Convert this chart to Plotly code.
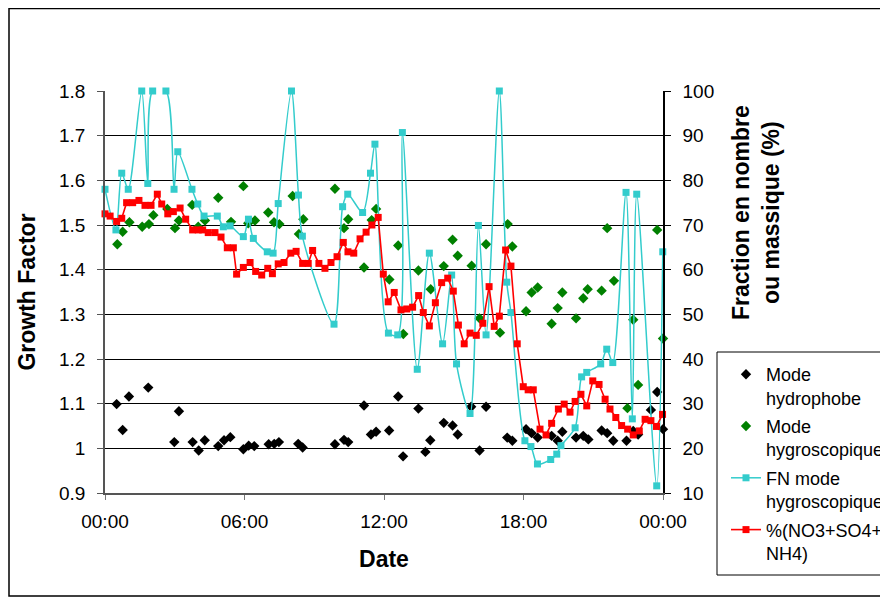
import plotly.graph_objects as go

# ---------------- data ----------------
x_tickvals = [0, 6, 12, 18, 24]
x_ticktext = ["00:00", "06:00", "12:00", "18:00", "00:00"]
gf_tickvals = [0.9, 1.0, 1.1, 1.2, 1.3, 1.4, 1.5, 1.6, 1.7, 1.8]
gf_ticktext = ["0.9", "1", "1.1", "1.2", "1.3", "1.4", "1.5", "1.6", "1.7", "1.8"]
pct_tickvals = [10, 20, 30, 40, 50, 60, 70, 80, 90, 100]

# Mode hydrophobe (Growth Factor)
hydro_h = [0.50, 0.76, 1.03, 1.86, 2.98, 3.18, 3.77, 4.03, 4.29, 4.87, 5.12, 5.39,
           5.95, 6.18, 6.42, 7.04, 7.28, 7.48, 8.31, 8.50, 9.89, 10.28, 10.46, 11.14,
           11.44, 11.66, 12.22, 12.61, 12.82, 13.48, 13.78, 13.99, 14.57, 14.95, 15.17,
           15.75, 16.11, 16.39, 17.30, 17.52, 18.11, 18.35, 18.61, 19.21, 19.47, 19.67,
           20.26, 20.57, 20.79, 21.36, 21.60, 21.86, 22.43, 22.72, 22.93, 23.48, 23.75, 24.0]
hydro_gf = [1.099, 1.041, 1.116, 1.136, 1.014, 1.083, 1.014, 0.995, 1.018, 1.005, 1.018, 1.025,
            0.998, 1.006, 1.005, 1.009, 1.010, 1.014, 1.010, 1.002, 1.009, 1.019, 1.014, 1.096,
            1.031, 1.037, 1.040, 1.116, 0.982, 1.089, 0.992, 1.018, 1.057, 1.051, 1.031,
            1.093, 0.995, 1.093, 1.024, 1.017, 1.043, 1.034, 1.024, 1.028, 1.017, 1.037,
            1.024, 1.028, 1.020, 1.040, 1.034, 1.017, 1.017, 1.039, 1.031, 1.086, 1.126, 1.043]

# Mode hygroscopique (Growth Factor)
hygro_h = [0.53, 0.76, 1.05, 1.60, 1.89, 2.08, 2.68, 3.01, 3.18, 3.75, 4.01, 4.30,
           4.87, 5.42, 5.95, 6.16, 6.45, 7.02, 7.27, 7.50, 8.07, 8.34, 8.53, 9.89,
           10.28, 10.46, 11.14, 11.47, 11.66, 12.23, 12.61, 12.83, 13.48, 14.01, 14.57,
           14.95, 15.17, 15.77, 16.11, 16.39, 16.99, 17.32, 17.52, 18.11, 18.35, 18.61,
           19.21, 19.47, 19.67, 20.26, 20.57, 20.76, 21.36, 21.60, 21.89, 22.47, 22.72,
           22.93, 23.75, 24.0]
hygro_gf = [1.457, 1.485, 1.506, 1.496, 1.502, 1.522, 1.536, 1.493, 1.510, 1.545, 1.496, 1.510,
            1.561, 1.507, 1.587, 1.504, 1.510, 1.528, 1.506, 1.502, 1.565, 1.480, 1.513, 1.581,
            1.493, 1.513, 1.405, 1.511, 1.536, 1.378, 1.454, 1.256, 1.398, 1.356, 1.408,
            1.467, 1.431, 1.409, 1.291, 1.457, 1.259, 1.502, 1.452, 1.307, 1.349, 1.360,
            1.279, 1.314, 1.349, 1.291, 1.336, 1.356, 1.353, 1.493, 1.375, 1.090, 1.288,
            1.142, 1.489, 1.246]

# FN mode hygroscopique (%)
fn_h = [0.0, 0.47, 0.72, 1.00, 1.58, 1.84, 2.05, 2.62, 2.97, 3.13, 3.74, 3.99, 4.26,
        4.83, 5.09, 5.38, 5.95, 6.17, 6.38, 6.98, 7.23, 7.45, 8.02, 8.32, 8.49, 9.85,
        10.22, 10.44, 11.08, 11.42, 11.61, 12.19, 12.59, 12.79, 13.43, 13.95, 14.52,
        14.91, 15.12, 15.70, 16.06, 16.39, 16.96, 17.28, 17.46, 18.06, 18.32, 18.60,
        19.17, 19.43, 19.61, 20.22, 20.50, 20.72, 21.32, 21.58, 21.84, 22.41, 22.68,
        22.87, 23.73, 23.99]
fn_pct = [78, 68.9, 81.6, 78, 100, 79.3, 100, 100, 78, 86.4, 78, 74.7, 72,
          72, 69.6, 69.8, 67.4, 71.3, 67, 64, 63.7, 74.8, 100, 76.7, 67.5, 47.8,
          74.1, 76.9, 72.8, 81.6, 88.1, 45.8, 45.4, 90.7, 37.7, 63.7, 43.4,
          58.8, 38.9, 27.8, 69.9, 45.4, 100, 57.2, 50.4, 21.7, 20.4, 16.5,
          17.5, 18.7, 20.6, 24.6, 36, 37, 38.9, 42.2, 39.2, 77.3, 26.6,
          76.9, 11.6, 64]

# %(NO3+SO4+NH4)
chem_h = [0.0, 0.22, 0.50, 0.72, 0.93, 1.19, 1.46, 1.72, 1.98, 2.25, 2.44, 2.70, 2.94,
          3.23, 3.47, 3.77, 4.01, 4.20, 4.44, 4.73, 4.99, 5.26, 5.52, 5.66, 5.95, 6.24,
          6.48, 6.74, 7.00, 7.20, 7.45, 7.70, 7.99, 8.22, 8.50, 8.74, 8.93, 9.20, 9.46,
          9.72, 9.98, 10.25, 10.45, 10.70, 10.97, 11.23, 11.48, 11.75, 11.97, 12.18,
          12.44, 12.73, 12.98, 13.23, 13.49, 13.69, 13.95, 14.21, 14.48, 14.74, 14.98,
          15.20, 15.45, 15.70, 15.97, 16.25, 16.52, 16.74, 16.96, 17.23, 17.46, 17.73,
          17.99, 18.20, 18.42, 18.71, 18.97, 19.21, 19.50, 19.75, 20.00, 20.22, 20.47,
          20.72, 20.98, 21.25, 21.51, 21.72, 21.97, 22.22, 22.48, 22.72, 22.98, 23.23,
          23.48, 23.72, 23.98]
chem_pct = [72.5, 72.0, 70.8, 71.5, 75.0, 75.0, 75.5, 74.4, 74.4, 76.9, 74.7, 72.5, 73.0,
            73.8, 71.3, 68.9, 68.9, 68.9, 68.3, 68.3, 67.3, 64.9, 64.9, 59.0, 60.5, 61.6,
            59.6, 58.8, 60.3, 59.1, 61.3, 61.6, 63.7, 64.1, 61.4, 61.4, 64.3, 61.4, 60.3,
            61.6, 62.9, 66.1, 64.0, 63.7, 66.9, 68.4, 70.0, 71.7, 59.0, 52.8,
            54.9, 51.0, 51.2, 51.6, 54.2, 50.4, 47.4, 52.6, 57.1, 58.1, 55.2,
            47.6, 43.4, 45.8, 45.3, 48.0, 56.2, 47.3, 49.6, 64.4, 60.8, 43.4,
            33.8, 33.1, 33.1, 24.3, 23.0, 25.6, 28.8, 29.9, 28.1, 30.5, 32.1,
            29.5, 35.1, 34.3, 31.0, 28.8, 26.9, 25.1, 24.3, 23.0, 23.9, 26.5,
            26.2, 24.9, 27.6]

# ---------------- figure ----------------
FONT = "Liberation Sans, Arial, sans-serif"
OFF = 8  # page body margin
W, H = 888 - OFF, 597 - OFF
L, T = 105 - OFF, 91 - OFF
R = W - (663 - OFF)
B = H - (493 - OFF)
pw, ph = W - L - R, H - T - B


def px_x(px):  # page pixel -> paper
    return (px - OFF - L) / pw


def px_y(py):
    return (H - B - (py - OFF)) / ph


fig = go.Figure()

fig.add_trace(go.Scatter(
    x=hydro_h, y=hydro_gf, mode="markers", name="Mode<br>hydrophobe", legendgroup="a",
    marker=dict(symbol="diamond", size=8, color="#000000"),
    yaxis="y", cliponaxis=False))
fig.add_trace(go.Scatter(
    x=hygro_h, y=hygro_gf, mode="markers", name="Mode<br>hygroscopique", legendgroup="b",
    marker=dict(symbol="diamond", size=8, color="#008000"),
    yaxis="y", cliponaxis=False))
fig.add_trace(go.Scatter(
    x=fn_h, y=fn_pct, mode="lines+markers", name="FN mode<br>hygroscopique", legendgroup="c",
    line=dict(color="#33CCCC", width=1.5, shape="spline", smoothing=0.8),
    marker=dict(symbol="square", size=7, color="#33CCCC"),
    yaxis="y2", cliponaxis=False))
fig.add_trace(go.Scatter(
    x=chem_h, y=chem_pct, mode="lines+markers", name="%(NO3+SO4+<br>NH4)", legendgroup="d",
    line=dict(color="#FF0000", width=1.6),
    marker=dict(symbol="square", size=7, color="#FF0000"),
    yaxis="y2", cliponaxis=False))

fig.update_layout(
    width=W, height=H,
    margin=dict(l=L, r=R, t=T, b=B, autoexpand=False),
    paper_bgcolor="white", plot_bgcolor="white",
    font=dict(family=FONT, size=19, color="black"),
    showlegend=True,
    legend=dict(
        x=px_x(726), y=px_y(356), xanchor="left", yanchor="top",
        borderwidth=0, bgcolor="rgba(0,0,0,0)",
        font=dict(family=FONT, size=18, color="black"),
        valign="top", tracegroupgap=2, itemwidth=30, traceorder="grouped",
    ),
    xaxis=dict(
        range=[0, 24], tickvals=x_tickvals, ticktext=x_ticktext,
        showgrid=False, zeroline=False, showline=True, linecolor="#555555", linewidth=1.5,
        ticks="outside", ticklen=5, tickcolor="#777777", ticklabelstandoff=5,
        title=dict(text="<b>Date</b>", font=dict(size=23), standoff=20),
    ),
    yaxis=dict(
        range=[0.9, 1.8], tickvals=gf_tickvals, ticktext=gf_ticktext,
        showgrid=True, gridcolor="#000000", gridwidth=1, zeroline=False,
        showline=True, linecolor="#555555", linewidth=1.5,
        ticks="outside", ticklen=6, tickcolor="#555555", ticklabelstandoff=8,
        title=dict(text="<b>Growth Factor</b>", font=dict(size=23), standoff=17),
    ),
    yaxis2=dict(
        range=[10, 100], tickvals=pct_tickvals, overlaying="y", side="right",
        showgrid=False, zeroline=False, showline=True, linecolor="#000000", linewidth=1.5,
        ticks="outside", ticklen=6, tickcolor="#000000", ticklabelstandoff=8,
    ),
    annotations=[dict(
        text="<b>Fraction en nombre<br>ou massique (%)</b>",
        xref="paper", yref="paper", x=px_x(756), y=px_y(213),
        xanchor="center", yanchor="middle", textangle=-90, showarrow=False,
        font=dict(family=FONT, size=23, color="black"), align="center",
    )],
    shapes=[
        dict(type="rect", xref="paper", yref="paper",
             x0=px_x(9), x1=px_x(1000), y0=px_y(596), y1=px_y(8.5),
             line=dict(color="black", width=1.5), fillcolor="rgba(0,0,0,0)", layer="below"),
        dict(type="rect", xref="paper", yref="paper",
             x0=px_x(717), x1=px_x(1000), y0=px_y(575), y1=px_y(352),
             line=dict(color="black", width=1), fillcolor="white", layer="below"),
    ],
)

fig.write_html("out.html")
